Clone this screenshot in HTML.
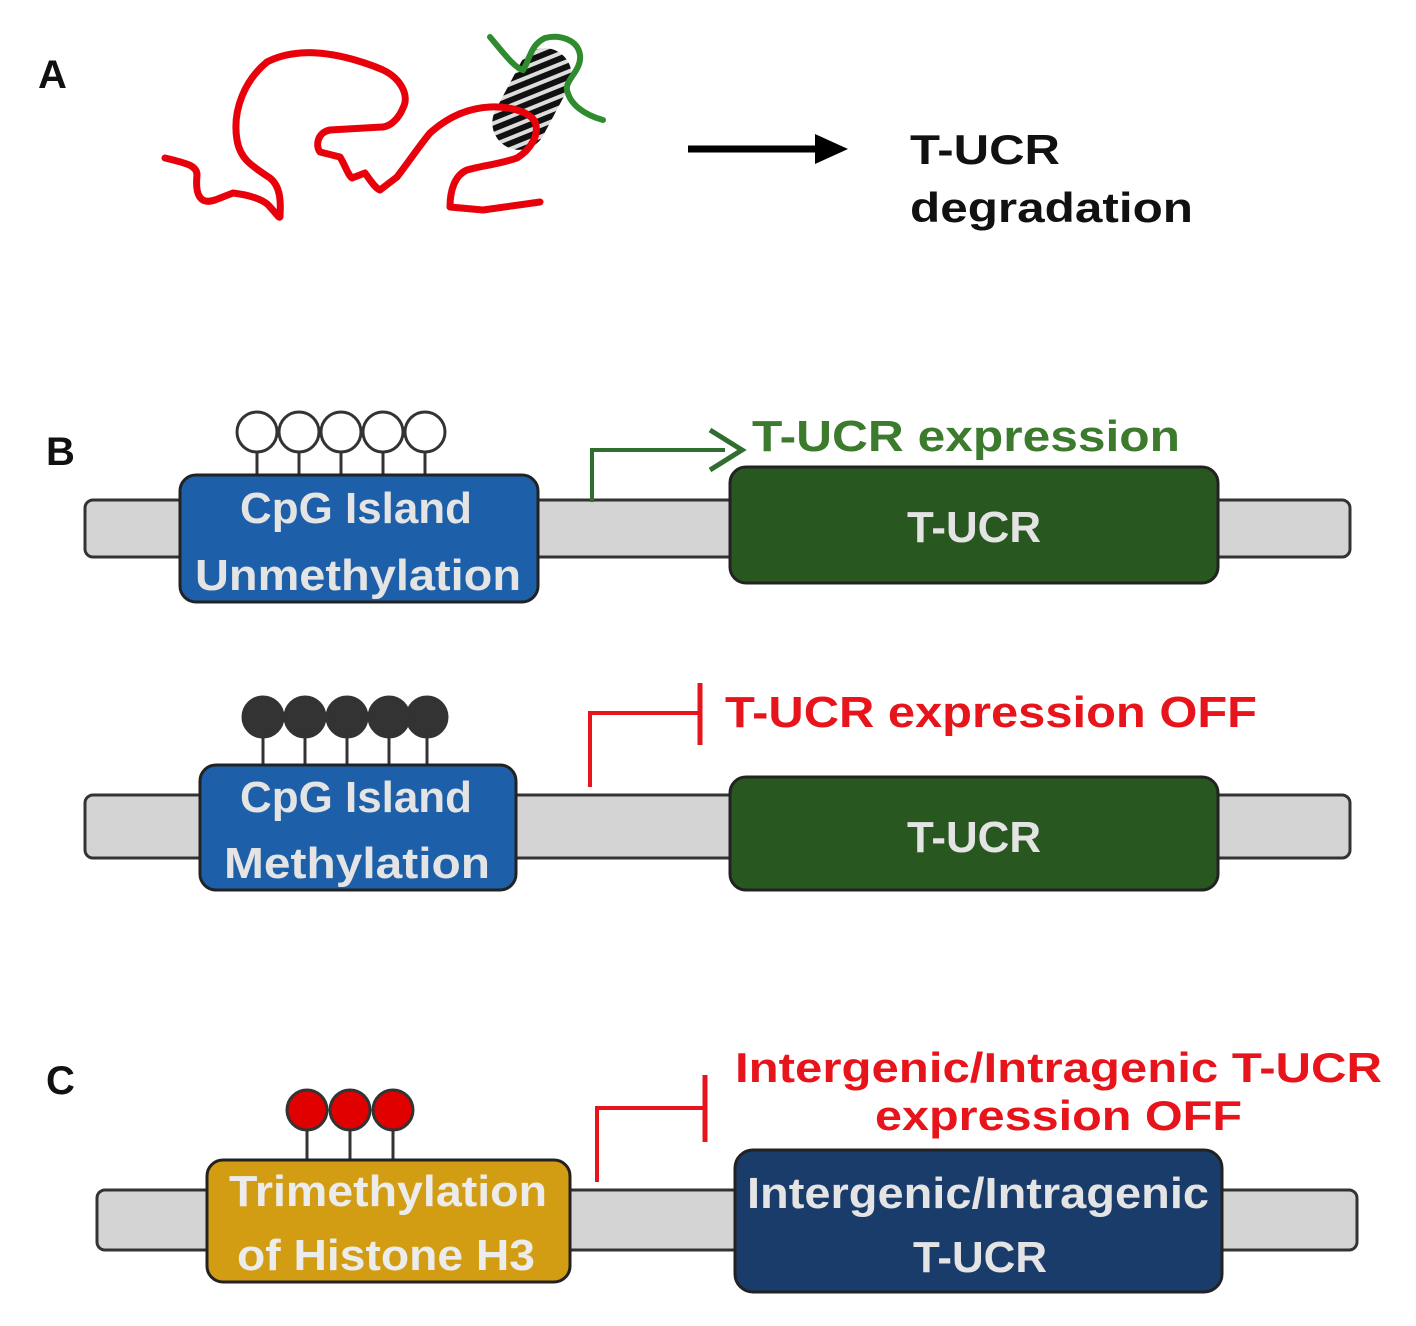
<!DOCTYPE html>
<html><head><meta charset="utf-8"><style>
html,body{margin:0;padding:0;background:#fff;}
svg{display:block;}
text{font-family:"Liberation Sans",sans-serif;font-weight:bold;}
</style></head><body>
<svg width="1416" height="1326" viewBox="0 0 1416 1326" xmlns="http://www.w3.org/2000/svg">
<defs>
<pattern id="hatch" patternUnits="userSpaceOnUse" width="10" height="10" patternTransform="rotate(-50)">
<rect width="10" height="10" fill="#ddd"/><rect width="6" height="10" fill="#111"/>
</pattern>
</defs>
<!-- Panel A -->
<text x="38" y="88" font-size="40" fill="#111">A</text>
<rect x="478" y="72" width="108" height="54" rx="27" fill="url(#hatch)" transform="rotate(-62 532 99)"/>
<path d="M165,158 C185,163 197,165 197,175 C195,195 200,205 215,200 L233,193 C250,195 265,200 270,207 C276,213 280,220 280,216 C281,200 280,186 270,178 C250,165 240,158 237,140 C232,110 245,80 267,62 C290,50 317,53 317,53 C350,55 383,70 383,70 C400,78 410,95 403,108 C398,120 390,126 383,127 L330,130 C318,132 315,145 320,152 L340,157 C345,165 348,175 352,178 L365,173 C370,180 375,188 380,190 L397,177 C410,160 420,145 430,133 C450,115 470,108 490,107 C510,106 530,112 535,122 C540,135 530,150 517,158 C500,164 480,166 467,170 C455,175 450,190 450,207 L483,210 L540,202" fill="none" stroke="#e8000b" stroke-width="7" stroke-linejoin="round" stroke-linecap="round"/>
<path d="M490,37 C505,55 515,68 523,70 C530,60 530,45 545,38 C560,34 578,40 580,55 C582,70 565,80 567,90 C570,105 585,115 603,120" fill="none" stroke="#2e8b2e" stroke-width="6" stroke-linecap="round"/>
<line x1="688" y1="149" x2="820" y2="149" stroke="#000" stroke-width="7"/>
<polygon points="848,149 815,134 815,164" fill="#000"/>
<text x="910" y="164" font-size="42" fill="#111" textLength="150" lengthAdjust="spacingAndGlyphs">T-UCR</text>
<text x="910" y="222" font-size="42" fill="#111" textLength="283" lengthAdjust="spacingAndGlyphs">degradation</text>

<!-- Panel B1 -->
<text x="46" y="465" font-size="40" fill="#111">B</text>
<rect x="85" y="500" width="1265" height="57" rx="8" fill="#d4d4d4" stroke="#333" stroke-width="3"/>
<g stroke="#333" stroke-width="3" fill="#fff">
<line x1="257" y1="450" x2="257" y2="476"/><line x1="299" y1="450" x2="299" y2="476"/><line x1="341" y1="450" x2="341" y2="476"/><line x1="383" y1="450" x2="383" y2="476"/><line x1="425" y1="450" x2="425" y2="476"/>
<circle cx="257" cy="432" r="20"/><circle cx="299" cy="432" r="20"/><circle cx="341" cy="432" r="20"/><circle cx="383" cy="432" r="20"/><circle cx="425" cy="432" r="20"/>
</g>
<rect x="180" y="475" width="358" height="127" rx="16" fill="#1d5fa8" stroke="#222" stroke-width="3"/>
<text x="356" y="523" font-size="44" fill="#e4e4e4" text-anchor="middle" textLength="232" lengthAdjust="spacingAndGlyphs">CpG Island</text>
<text x="358" y="590" font-size="44" fill="#e4e4e4" text-anchor="middle" textLength="326" lengthAdjust="spacingAndGlyphs">Unmethylation</text>
<rect x="730" y="467" width="488" height="116" rx="16" fill="#28581f" stroke="#222" stroke-width="3"/>
<text x="974" y="542" font-size="44" fill="#e4e4e4" text-anchor="middle" textLength="134" lengthAdjust="spacingAndGlyphs">T-UCR</text>
<path d="M592,502 L592,450 L725,450" fill="none" stroke="#2f6e2f" stroke-width="4"/>
<path d="M710,430 L742,450 L710,470" fill="none" stroke="#2f6e2f" stroke-width="5"/>
<text x="752" y="451" font-size="44" fill="#3c7a2e" textLength="428" lengthAdjust="spacingAndGlyphs">T-UCR expression</text>

<!-- Panel B2 -->
<rect x="85" y="795" width="1265" height="63" rx="8" fill="#d4d4d4" stroke="#333" stroke-width="3"/>
<g stroke="#333" stroke-width="3" fill="#333">
<line x1="263" y1="735" x2="263" y2="766"/><line x1="305" y1="735" x2="305" y2="766"/><line x1="347" y1="735" x2="347" y2="766"/><line x1="389" y1="735" x2="389" y2="766"/><line x1="427" y1="735" x2="427" y2="766"/>
<circle cx="263" cy="717" r="20"/><circle cx="305" cy="717" r="20"/><circle cx="347" cy="717" r="20"/><circle cx="389" cy="717" r="20"/><circle cx="427" cy="717" r="20"/>
</g>
<rect x="200" y="765" width="316" height="125" rx="16" fill="#1d5fa8" stroke="#222" stroke-width="3"/>
<text x="356" y="812" font-size="44" fill="#e4e4e4" text-anchor="middle" textLength="232" lengthAdjust="spacingAndGlyphs">CpG Island</text>
<text x="357" y="878" font-size="44" fill="#e4e4e4" text-anchor="middle" textLength="266" lengthAdjust="spacingAndGlyphs">Methylation</text>
<rect x="730" y="777" width="488" height="113" rx="16" fill="#28581f" stroke="#222" stroke-width="3"/>
<text x="974" y="852" font-size="44" fill="#e4e4e4" text-anchor="middle" textLength="134" lengthAdjust="spacingAndGlyphs">T-UCR</text>
<path d="M590,787 L590,713 L700,713" fill="none" stroke="#e8141b" stroke-width="4"/>
<line x1="700" y1="683" x2="700" y2="745" stroke="#e8141b" stroke-width="5"/>
<text x="725" y="727" font-size="44" fill="#e8141b" textLength="532" lengthAdjust="spacingAndGlyphs">T-UCR expression OFF</text>

<!-- Panel C -->
<text x="46" y="1094" font-size="40" fill="#111">C</text>
<rect x="97" y="1190" width="1260" height="60" rx="8" fill="#d4d4d4" stroke="#333" stroke-width="3"/>
<g stroke="#333" stroke-width="3" fill="#e00000">
<line x1="307" y1="1128" x2="307" y2="1161"/><line x1="350" y1="1128" x2="350" y2="1161"/><line x1="393" y1="1128" x2="393" y2="1161"/>
<circle cx="307" cy="1110" r="20"/><circle cx="350" cy="1110" r="20"/><circle cx="393" cy="1110" r="20"/>
</g>
<rect x="207" y="1160" width="363" height="122" rx="16" fill="#d29d12" stroke="#222" stroke-width="3"/>
<text x="388" y="1206" font-size="44" fill="#ececec" text-anchor="middle" textLength="318" lengthAdjust="spacingAndGlyphs">Trimethylation</text>
<text x="386" y="1270" font-size="44" fill="#ececec" text-anchor="middle" textLength="298" lengthAdjust="spacingAndGlyphs">of Histone H3</text>
<rect x="735" y="1150" width="487" height="142" rx="18" fill="#1a3c6b" stroke="#222" stroke-width="3"/>
<text x="978" y="1208" font-size="44" fill="#e4e4e4" text-anchor="middle" textLength="462" lengthAdjust="spacingAndGlyphs">Intergenic/Intragenic</text>
<text x="980" y="1272" font-size="44" fill="#e4e4e4" text-anchor="middle" textLength="134" lengthAdjust="spacingAndGlyphs">T-UCR</text>
<path d="M597,1182 L597,1108 L705,1108" fill="none" stroke="#e8141b" stroke-width="4"/>
<line x1="705" y1="1075" x2="705" y2="1142" stroke="#e8141b" stroke-width="5"/>
<text x="735" y="1082" font-size="42" fill="#e8141b" textLength="647" lengthAdjust="spacingAndGlyphs">Intergenic/Intragenic T-UCR</text>
<text x="875" y="1130" font-size="42" fill="#e8141b" textLength="367" lengthAdjust="spacingAndGlyphs">expression OFF</text>
</svg>
</body></html>
